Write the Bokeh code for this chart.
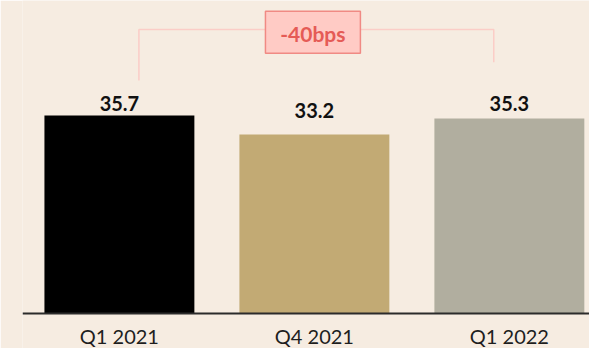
from bokeh.plotting import figure
from bokeh.models import Range1d, FixedTicker, LinearAxis
from bokeh.core.properties import value
from bokeh.embed import file_html
from bokeh.resources import INLINE

# Margin by quarter (%)
quarters = ["Q1 2021", "Q4 2021", "Q1 2022"]
margin = [35.7, 33.2, 35.3]
bar_colors = ["#000000", "#c2aa74", "#b1ae9f"]

# year-on-year change in basis points, Q1 2021 -> Q1 2022
change_bps = round((margin[2] - margin[0]) * 100)
change_label = f"{change_bps:+d}bps"

positions = list(range(len(quarters)))
label_lift = [-12, -24, -15]        # screen px above each bar top
floor = 9.65                        # value axis starts here

BG = "#f6ece1"
FONT = value("Lato")

p = figure(width=589, height=348, output_backend="svg", toolbar_location=None,
           x_range=Range1d(-0.497, 2.411), y_range=Range1d(5.045, 50.83),
           min_border_left=22, min_border_right=0, min_border_top=0,
           min_border_bottom=0, x_axis_location=None, y_axis_location=None)
p.background_fill_color = BG
p.border_fill_color = BG
p.outline_line_color = None
p.xgrid.visible = False
p.ygrid.visible = False

# bars
p.vbar(x=positions, top=margin, bottom=floor, width=0.769,
       fill_color=bar_colors, line_color=None)

# value labels
p.text(x=positions, y=margin, text=[f"{v:.1f}" for v in margin],
       y_offset=label_lift, text_align="center", text_baseline="alphabetic",
       text_font=FONT, text_font_style="bold", text_font_size="20px",
       text_color="#111111")

# bracket linking first and last quarter
p.line(x=[0.10, 0.10, 1.92, 1.92], y=[40.3, 47.0, 47.0, 42.7],
       line_color="#fbcdc7", line_width=1.5)
p.quad(left=[0.749], right=[1.236], bottom=[43.9], top=[49.43],
       fill_color="#ffcbc5", line_color="#f08a84", line_width=1.5)
p.text(x=[0.992], y=[46.5], text=[change_label], text_align="center",
       text_baseline="alphabetic", text_font=FONT, text_font_style="bold",
       text_font_size="21px", text_color="#e55b56")

# category axis, pinned to the bar baseline
ax = LinearAxis(fixed_location=floor)
ax.ticker = FixedTicker(ticks=positions)
ax.major_label_overrides = {i: q for i, q in zip(positions, quarters)}
ax.axis_line_color = "#2b2b2b"
ax.axis_line_width = 2
ax.major_tick_line_color = None
ax.minor_tick_line_color = None
ax.major_label_standoff = 5
ax.major_label_text_font = "Lato"
ax.major_label_text_font_size = "20px"
ax.major_label_text_color = "#1e1e1e"
p.add_layout(ax, "below")

open("out.html", "w").write(file_html(p, INLINE))
